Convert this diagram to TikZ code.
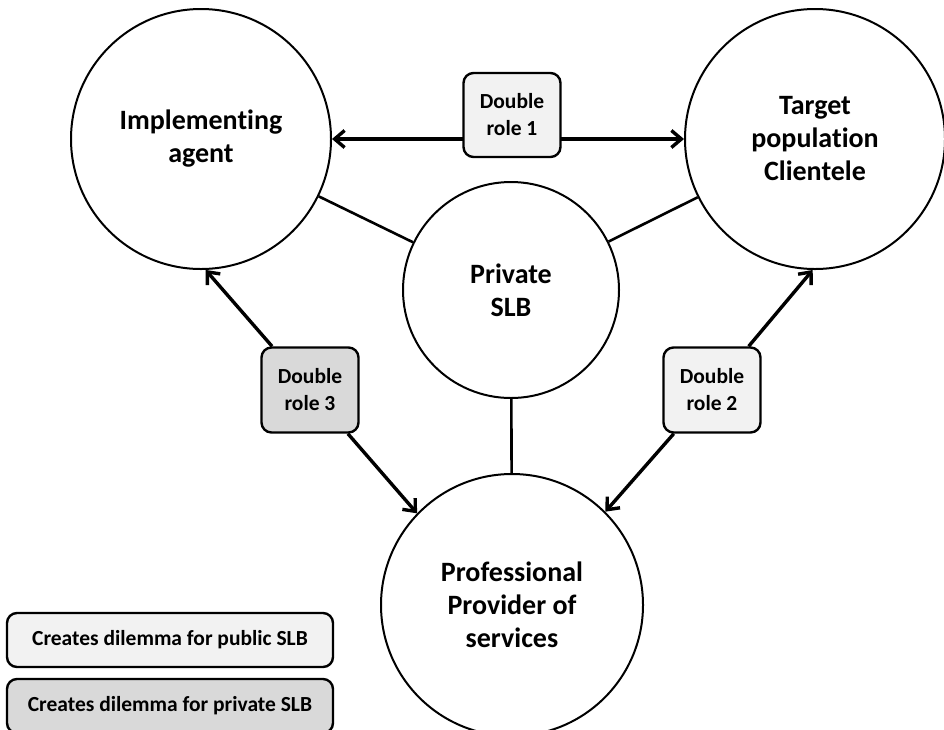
\documentclass[tikz,border=0pt]{standalone}
\usepackage{fontspec}
\setmainfont[Ligatures=NoCommon]{Carlito}
\usetikzlibrary{arrows.meta}

\definecolor{lightrole}{HTML}{F2F2F2}
\definecolor{darkrole}{HTML}{D9D9D9}

\begin{document}
\begin{tikzpicture}[x=1pt,y=-1pt,
		actor/.style={circle, draw, line width=2pt, inner sep=0pt, align=center,
			font=\fontsize{28}{33}\selectfont\bfseries},
		rolebox/.style={draw, rounded corners=10pt, line width=2.4pt, align=center,
			minimum width=97pt, minimum height=85pt, inner sep=0pt,
			font=\fontsize{21.5}{27}\selectfont\bfseries},
		keybox/.style={draw, rounded corners=10pt, line width=2.4pt,
			minimum width=326pt, minimum height=54pt, inner sep=0pt,
			font=\fontsize{21.5}{27}\selectfont\bfseries},
		tie/.style={line width=2.6pt},
		dilemma/.style={line width=3.4pt, -{Straight Barb[length=10pt,width=17pt]}},
		dilemmaboth/.style={line width=3.4pt, {Straight Barb[length=10pt,width=17pt]}-{Straight Barb[length=10pt,width=17pt]}}]
	\useasboundingbox (0,0) rectangle (944,729);
	% actors
	\node[actor, minimum size=260pt] (agent) at (201,139) {Implementing\\agent};
	\node[actor, minimum size=260pt] (target) at (815,139) {Target\\population\\Clientele};
	\node[actor, minimum size=216pt] (slb) at (511,290) {Private\\SLB};
	\node[actor, minimum size=262pt] (provider) at (512,605) {Professional\\Provider of\\services};
	% plain ties to the private SLB
	\draw[tie] (agent) -- (slb);
	\draw[tie] (slb) -- (target);
	\draw[tie] (slb) -- (provider);
	% double roles
	\draw[dilemmaboth] (agent) -- (target);
	\node[rolebox, fill=lightrole, minimum height=84pt] (role1) at (512,115) {Double\\role 1};
	\node[rolebox, fill=lightrole] (role2) at (712,390) {Double\\role 2};
	\node[rolebox, fill=darkrole] (role3) at (310,390) {Double\\role 3};
	\draw[dilemma] (role3) -- (agent.272);
	\draw[dilemma] (role3) -- (provider.136);
	\draw[dilemma] (role2) -- (target.269);
	\draw[dilemma] (role2) -- (provider.45);
	% legend
	\node[keybox, fill=lightrole] (keypublic) at (170,640) {Creates dilemma for public SLB};
	\node[keybox, fill=darkrole] (keyprivate) at (170,706) {Creates dilemma for private SLB};
\end{tikzpicture}
\end{document}
